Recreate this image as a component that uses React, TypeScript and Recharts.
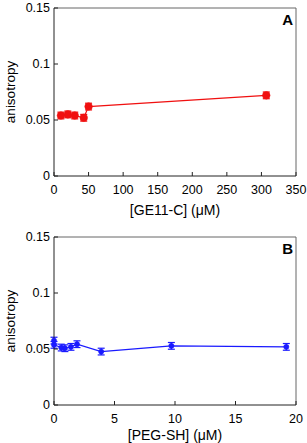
import { ComposedChart, Line, XAxis, YAxis, ErrorBar, ReferenceLine, Label } from 'recharts';

const geX = [10, 20, 30, 43, 50, 307];
const geY = [0.054, 0.055, 0.054, 0.052, 0.062, 0.072];
const geErr = [0.003, 0.003, 0.003, 0.003, 0.003, 0.003];

const pegX = [0, 0, 0.6, 0.9, 1.4, 1.9, 3.9, 9.7, 19.2];
const pegY = [0.0575, 0.0537, 0.0513, 0.0507, 0.0519, 0.0543, 0.0477, 0.0528, 0.0519];
const pegErr = [0.003, 0.003, 0.003, 0.003, 0.003, 0.003, 0.003, 0.003, 0.003];

const yTicks = [0, 0.05, 0.1, 0.15];
const geTicks = [0, 50, 100, 150, 200, 250, 300, 350];
const pegTicks = [0, 5, 10, 15, 20];

const FONT = '"Liberation Sans", Arial, sans-serif';
const AXIS = '#222';
const FRAME = '#666';

const geData = geX.map((x, i) => ({ x, y: geY[i], err: geErr[i] }));
const pegData = pegX.map((x, i) => ({ x, y: pegY[i], err: pegErr[i] }));

const XTick = (props: any) => {
  const { x, y, payload } = props;
  const axisY = y - 9;
  return (
    <g>
      <line x1={x} x2={x} y1={axisY} y2={axisY - 4} stroke={AXIS} />
      <text x={x} y={y} dy="0.71em" textAnchor="middle" fontSize={12.5} fontFamily={FONT} fill="#000">
        {payload.value}
      </text>
    </g>
  );
};

const YTick = (props: any) => {
  const { x, y, payload } = props;
  const axisX = x + 4;
  return (
    <g>
      <line x1={axisX} x2={axisX + 4} y1={y} y2={y} stroke={AXIS} />
      <text x={x} y={y} dy="0.355em" textAnchor="end" fontSize={12.5} fontFamily={FONT} fill="#000">
        {String(payload.value)}
      </text>
    </g>
  );
};

const YLabel = (props: any) => {
  const { viewBox } = props;
  const cx = 10;
  const cy = viewBox.y + viewBox.height / 2;
  return (
    <text
      x={cx}
      y={cy}
      transform={`rotate(-90 ${cx} ${cy})`}
      textAnchor="middle"
      dominantBaseline="central"
      fontSize={13.5}
      fontFamily={FONT}
      fill="#000"
    >
      anisotropy
    </text>
  );
};

const Panel = ({ data, ticks, max, color, r, xLabel, letter, top, height, axisH, labelBottom }: any) => (
  <div style={{ position: 'relative', width: 307, height }}>
    <ComposedChart width={307} height={height} data={data} margin={{ top, right: 11, bottom: 0, left: 0 }}>
      <XAxis
        dataKey="x"
        type="number"
        domain={[0, max]}
        ticks={ticks}
        height={axisH}
        tickSize={0}
        tickMargin={9}
        tick={<XTick />}
        axisLine={{ stroke: AXIS }}
        tickLine={false}
        interval={0}
      >
        <Label
          value={xLabel}
          position="insideBottom"
          offset={labelBottom}
          style={{ fontSize: 14, fontFamily: FONT, fill: '#000' }}
        />
      </XAxis>
      <YAxis
        type="number"
        domain={[0, 0.15]}
        ticks={yTicks}
        width={54}
        tickSize={0}
        tickMargin={4}
        tick={<YTick />}
        axisLine={{ stroke: AXIS }}
        tickLine={false}
        interval={0}
        label={<YLabel />}
      />
      <ReferenceLine y={0.15} stroke={FRAME} />
      <ReferenceLine x={max} stroke={FRAME} />
      <Line
        dataKey="y"
        type="linear"
        stroke={color}
        strokeWidth={1.2}
        dot={{ r, fill: color, stroke: color, strokeWidth: 0.5 }}
        isAnimationActive={false}
      >
        <ErrorBar dataKey="err" width={3.5} stroke={color} strokeWidth={1.2} direction="y" />
      </Line>
    </ComposedChart>
    <div
      style={{
        position: 'absolute',
        right: 307 - 293,
        top: top + 4,
        fontFamily: FONT,
        fontWeight: 'bold',
        fontSize: 15,
        lineHeight: '16px',
      }}
    >
      {letter}
    </div>
  </div>
);

export default function App() {
  return (
    <div style={{ position: 'absolute', left: 0, top: 0, width: 307, height: 443, background: '#fff' }}>
      <Panel
        data={geData}
        ticks={geTicks}
        max={350}
        color="#f01010"
        r={3.8}
        xLabel="[GE11-C] (μM)"
        letter="A"
        top={8}
        height={220}
        axisH={44}
        labelBottom={5}
      />
      <Panel
        data={pegData}
        ticks={pegTicks}
        max={20}
        color="#1a1aff"
        r={2.6}
        xLabel="[PEG-SH] (μM)"
        letter="B"
        top={17}
        height={223}
        axisH={38}
        labelBottom={3}
      />
    </div>
  );
}
